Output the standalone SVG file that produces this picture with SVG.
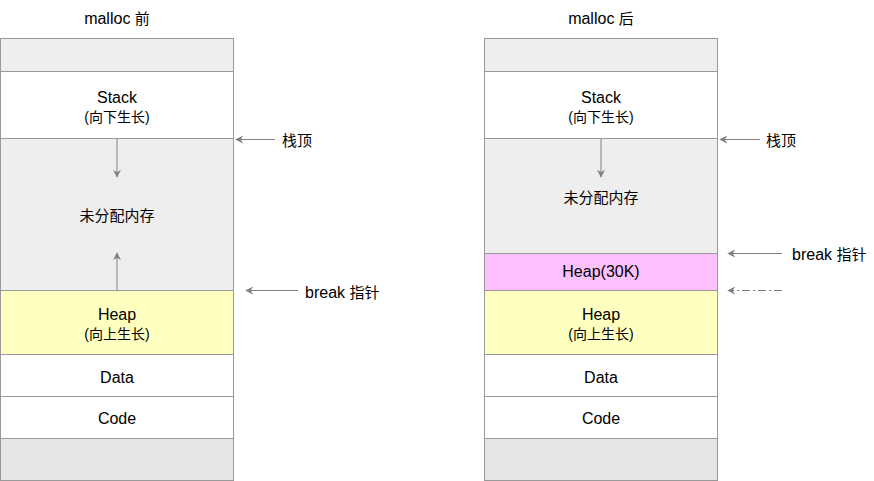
<svg xmlns="http://www.w3.org/2000/svg" width="874" height="481" viewBox="0 0 874 481">
<defs>
<style>
.t{font-family:"Liberation Sans","Noto Sans CJK SC",sans-serif;font-size:16px;fill:#000;text-anchor:middle;dominant-baseline:central}
.tl{font-family:"Liberation Sans","Noto Sans CJK SC",sans-serif;font-size:16px;fill:#000;dominant-baseline:central}
.c{font-size:15px}
.p{font-size:14px}
.b{stroke:#999;stroke-width:1}
.a{stroke:#808080;stroke-width:1;fill:none;marker-end:url(#ah)}
</style>
<marker id="ah" viewBox="0 0 10 10" refX="9" refY="5" markerWidth="8" markerHeight="8" markerUnits="userSpaceOnUse" orient="auto">
<path d="M0,0 L10,5 L0,10 L3,5 Z" fill="#808080"/>
</marker>
</defs>
<rect width="874" height="481" fill="#fff"/>
<text class="t" x="117" y="18">malloc <tspan class="c">前</tspan></text>
<text class="t" x="601" y="18">malloc <tspan class="c">后</tspan></text>
<g id="left">
<rect id="l-top" class="b" x="0.5" y="38.5" width="233" height="33" fill="#eeeeee"/>
<g id="l-stack"><rect class="b" x="0.5" y="71.5" width="233" height="67" fill="#fff"/><text class="t" x="117" y="97">Stack</text><text class="t p" x="117" y="117">(向下生长)</text></g>
<g id="l-free"><rect class="b" x="0.5" y="138.5" width="233" height="152" fill="#eeeeee"/><text class="t c" x="117" y="215">未分配内存</text></g>
<g id="l-heap"><rect class="b" x="0.5" y="290.5" width="233" height="64" fill="#ffffc0"/><text class="t" x="117" y="314">Heap</text><text class="t p" x="117" y="334">(向上生长)</text></g>
<g id="l-data"><rect class="b" x="0.5" y="354.5" width="233" height="42" fill="#fff"/><text class="t" x="117" y="377">Data</text></g>
<g id="l-code"><rect class="b" x="0.5" y="396.5" width="233" height="42" fill="#fff"/><text class="t" x="117" y="418">Code</text></g>
<rect id="l-bottom" class="b" x="0.5" y="438.5" width="233" height="42" fill="#e6e6e6"/>
</g>
<g id="right">
<rect id="r-top" class="b" x="484.5" y="38.5" width="233" height="33" fill="#eeeeee"/>
<g id="r-stack"><rect class="b" x="484.5" y="71.5" width="233" height="67" fill="#fff"/><text class="t" x="601" y="97">Stack</text><text class="t p" x="601" y="117">(向下生长)</text></g>
<g id="r-free"><rect class="b" x="484.5" y="138.5" width="233" height="115" fill="#eeeeee"/><text class="t c" x="601" y="197">未分配内存</text></g>
<g id="r-heap30"><rect class="b" x="484.5" y="253.5" width="233" height="37" fill="#ffc0ff"/><text class="t" x="601" y="271">Heap(30K)</text></g>
<g id="r-heap"><rect class="b" x="484.5" y="290.5" width="233" height="64" fill="#ffffc0"/><text class="t" x="601" y="314">Heap</text><text class="t p" x="601" y="334">(向上生长)</text></g>
<g id="r-data"><rect class="b" x="484.5" y="354.5" width="233" height="42" fill="#fff"/><text class="t" x="601" y="377">Data</text></g>
<g id="r-code"><rect class="b" x="484.5" y="396.5" width="233" height="42" fill="#fff"/><text class="t" x="601" y="418">Code</text></g>
<rect id="r-bottom" class="b" x="484.5" y="438.5" width="233" height="42" fill="#e6e6e6"/>
</g>
<g id="labels">
<text class="tl c" x="282" y="140">栈顶</text>
<text class="tl" x="305" y="292">break <tspan class="c">指针</tspan></text>
<text class="tl c" x="766" y="140">栈顶</text>
<text class="tl" x="792" y="254">break <tspan class="c">指针</tspan></text>
</g>
<g id="connectors">
<line class="a" x1="117" y1="139" x2="117" y2="177"/>
<line class="a" x1="117" y1="290" x2="117" y2="253"/>
<line class="a" x1="275" y1="139.5" x2="236" y2="139.5"/>
<line class="a" x1="298" y1="290.5" x2="246" y2="290.5"/>
<line class="a" x1="601" y1="139" x2="601" y2="177"/>
<line class="a" x1="760" y1="139.5" x2="720" y2="139.5"/>
<line class="a" x1="782" y1="253.5" x2="728" y2="253.5"/>
<line class="a" x1="782" y1="290.5" x2="728" y2="290.5" stroke-dasharray="8 3 2 3" stroke="#aaaaaa"/>
</g>
</svg>
